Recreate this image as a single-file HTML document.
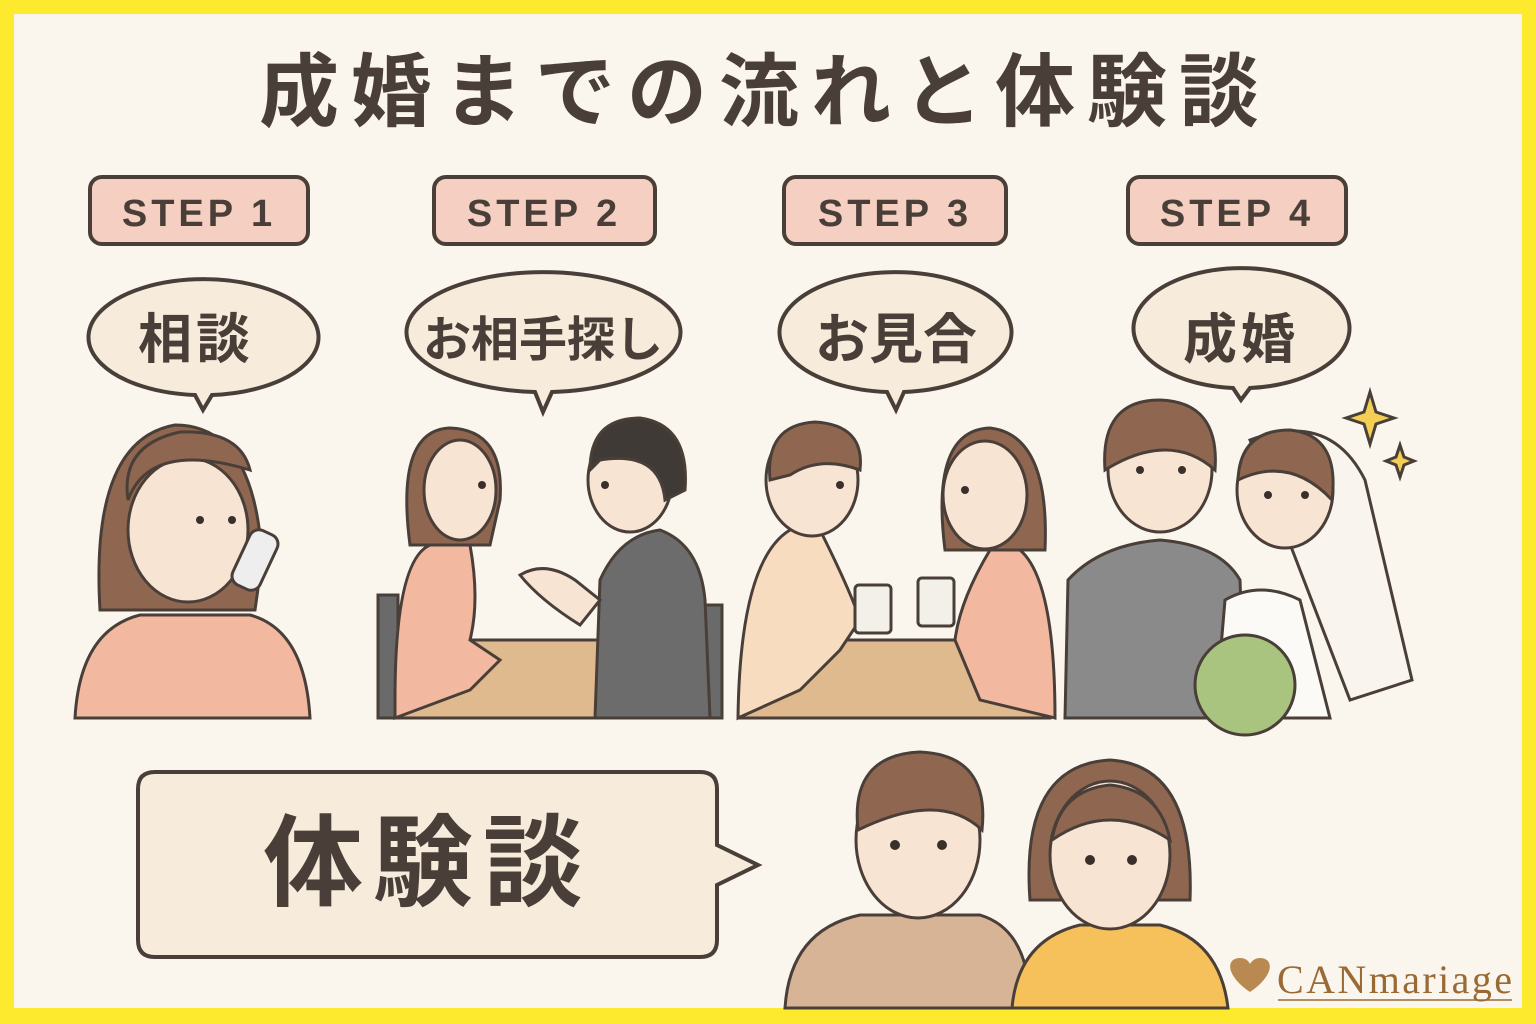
<!DOCTYPE html>
<html><head><meta charset="utf-8"><style>
html,body{margin:0;padding:0;}
body{width:1536px;height:1024px;background:#fdea2e;position:relative;overflow:hidden;}
svg{position:absolute;left:0;top:0;}
text{font-family:"Liberation Sans","Noto Sans CJK JP",sans-serif;font-weight:bold;fill:#4a3f38;}
</style></head><body>
<svg width="1536" height="1024" viewBox="0 0 1536 1024">
<rect x="14" y="14" width="1508" height="994" fill="#faf6ee"/>
<text x="765" y="120" text-anchor="middle" font-size="80" letter-spacing="12">成婚までの流れと体験談</text>
<g stroke="#4a3f38" stroke-width="4" fill="#f5cfc1">
<rect x="90" y="177" width="218" height="67" rx="12"/>
<rect x="434" y="177" width="221" height="67" rx="12"/>
<rect x="784" y="177" width="222" height="67" rx="12"/>
<rect x="1128" y="177" width="218" height="67" rx="12"/>
</g>
<g font-size="38" text-anchor="middle" letter-spacing="4">
<text x="199" y="226">STEP 1</text><text x="544" y="226">STEP 2</text>
<text x="895" y="226">STEP 3</text><text x="1237" y="226">STEP 4</text>
</g>
<g stroke="#4a3f38" stroke-width="4" fill="#f7ecdc">
<path d="M195 395 A115 58 0 1 1 212 395 L203 410 Z"/>
<path d="M535 392 A137 60 0 1 1 552 392 L543 412 Z"/>
<path d="M887 392 A116 60 0 1 1 904 392 L896 410 Z"/>
<path d="M1233 388 A108 60 0 1 1 1250 388 L1241 400 Z"/>
</g>
<g font-size="54" text-anchor="middle">
<text x="196" y="358" letter-spacing="4">相談</text><text x="543" y="356" font-size="48">お相手探し</text>
<text x="896" y="358">お見合</text><text x="1241" y="358" letter-spacing="4">成婚</text>
</g>
<g stroke="#4a3f38" stroke-width="3">
<path d="M75 718 Q80 630 140 615 L250 615 Q305 630 310 718 Z" fill="#f2b8a0"/>
<path d="M100 610 Q90 440 175 425 Q255 425 262 560 L255 610 Z" fill="#8f6751"/>
<ellipse cx="188" cy="530" rx="60" ry="72" fill="#f8e4d3"/>
<path d="M128 500 Q150 440 250 470 Q240 430 180 432 Q120 445 128 500Z" fill="#8f6751"/>
<rect x="240" y="530" width="30" height="60" rx="10" fill="#eee" transform="rotate(25 255 560)"/>
<rect x="378" y="595" width="20" height="123" fill="#6b6a6a"/>
<rect x="700" y="605" width="22" height="113" fill="#6b6a6a"/>
<path d="M395 718 L410 640 L690 640 L690 718 Z" fill="#dfba8f"/>
<path d="M395 700 Q395 560 430 545 L470 545 Q480 600 470 640 L500 660 L470 690 L395 718Z" fill="#f2b8a0"/>
<path d="M410 545 Q395 430 450 428 Q505 430 500 500 L490 545Z" fill="#8f6751"/>
<ellipse cx="460" cy="490" rx="36" ry="50" fill="#f8e4d3"/>
<path d="M595 718 L600 580 Q620 535 660 530 Q700 545 705 600 L710 718Z" fill="#6d6c6c"/>
<ellipse cx="630" cy="480" rx="42" ry="52" fill="#f8e4d3"/>
<path d="M590 470 Q590 418 640 418 Q690 425 685 490 L665 500 Q660 450 600 460Z" fill="#3f3a36"/>
<path d="M520 575 Q545 560 575 580 L600 600 L580 625 Q540 600 520 575Z" fill="#f8e4d3"/>
<path d="M740 718 L760 640 L1050 640 L1050 718 Z" fill="#dfba8f"/>
<path d="M738 718 Q740 560 790 530 L820 530 Q850 590 860 620 L840 650 L800 690 Z" fill="#f7dcc0"/>
<ellipse cx="812" cy="480" rx="46" ry="56" fill="#f8e4d3"/>
<path d="M770 480 Q765 425 815 422 Q865 425 860 470 Q820 455 790 475Z" fill="#8f6751"/>
<path d="M1055 718 Q1055 580 1020 550 L990 550 Q960 600 955 640 L980 700 Z" fill="#f2b8a0"/>
<path d="M945 550 Q930 430 990 428 Q1050 435 1045 550 Z" fill="#8f6751"/>
<ellipse cx="985" cy="495" rx="42" ry="54" fill="#f8e4d3"/>
<rect x="855" y="585" width="36" height="48" rx="4" fill="#f3f0ea"/>
<rect x="918" y="578" width="36" height="48" rx="4" fill="#f3f0ea"/>
<path d="M1065 718 L1068 580 Q1100 545 1160 540 Q1220 545 1240 580 L1245 718Z" fill="#8b8a8a"/>
<ellipse cx="1160" cy="470" rx="52" ry="62" fill="#f8e4d3"/>
<path d="M1105 470 Q1100 400 1160 400 Q1220 402 1215 470 Q1170 430 1105 470Z" fill="#8f6751"/>
<path d="M1215 718 L1225 600 Q1260 580 1300 600 L1330 718Z" fill="#fbfaf6"/>
<path d="M1250 440 Q1330 410 1365 480 L1412 680 L1350 700 Z" fill="#f7f4ee" fill-opacity="0.5"/>
<ellipse cx="1285" cy="490" rx="48" ry="58" fill="#f8e4d3"/>
<path d="M1238 480 Q1240 430 1290 430 Q1340 435 1332 500 Q1290 455 1238 480Z" fill="#8f6751"/>
<circle cx="1245" cy="685" r="50" fill="#a9c47f"/>
<path d="M785 1008 Q790 930 860 915 L980 915 Q1030 930 1030 1008Z" fill="#d8b497"/>
<ellipse cx="918" cy="840" rx="62" ry="78" fill="#f8e4d3"/>
<path d="M858 830 Q850 755 920 752 Q990 755 982 830 Q940 790 858 830Z" fill="#8f6751"/>
<path d="M1012 1008 Q1018 940 1080 925 L1160 925 Q1220 940 1228 1008Z" fill="#f6c15a"/>
<path d="M1030 900 Q1020 765 1110 760 Q1195 765 1190 900Z" fill="#8f6751"/>
<ellipse cx="1110" cy="855" rx="60" ry="74" fill="#f8e4d3"/>
<path d="M1052 840 Q1060 790 1110 785 Q1160 790 1170 840 Q1110 800 1052 840Z" fill="#8f6751"/>
</g>
<g fill="#3a302b">
<circle cx="200" cy="520" r="4"/><circle cx="232" cy="520" r="4"/>
<circle cx="482" cy="485" r="4"/><circle cx="605" cy="485" r="4"/>
<circle cx="840" cy="485" r="4"/><circle cx="965" cy="490" r="4"/>
<circle cx="1140" cy="470" r="4"/><circle cx="1182" cy="470" r="4"/>
<circle cx="1268" cy="495" r="4"/><circle cx="1305" cy="495" r="4"/>
<circle cx="895" cy="845" r="5"/><circle cx="942" cy="845" r="5"/>
<circle cx="1090" cy="860" r="5"/><circle cx="1132" cy="860" r="5"/>
</g>
<path d="M1370 392 L1376 412 L1394 418 L1376 424 L1370 444 L1364 424 L1346 418 L1364 412Z" fill="#f3cf55" stroke="#4a3f38" stroke-width="3"/>
<path d="M1400 445 L1404 457 L1414 461 L1404 465 L1400 477 L1396 465 L1386 461 L1396 457Z" fill="#f3cf55" stroke="#4a3f38" stroke-width="3"/>
<path d="M155 772 L700 772 Q717 772 717 789 L717 845 L758 865 L717 885 L717 940 Q717 957 700 957 L155 957 Q138 957 138 940 L138 789 Q138 772 155 772Z" fill="#f7ecdc" stroke="#4a3f38" stroke-width="4"/>
<text x="428" y="898" text-anchor="middle" font-size="100" letter-spacing="10">体験談</text>
<path d="M1250 992 C1225 975 1226 958 1240 958 C1248 958 1250 964 1250 964 C1250 964 1253 958 1260 958 C1274 958 1275 975 1250 992Z" fill="#b88a52"/>
<text x="1277" y="993" font-size="40" textLength="235" style="font-family:'Liberation Serif',serif;font-weight:normal;fill:#9a6a34">CANmariage</text>
<line x1="1278" y1="1000" x2="1512" y2="1000" stroke="#9a6a34" stroke-width="1.5"/>
</svg>
</body></html>
